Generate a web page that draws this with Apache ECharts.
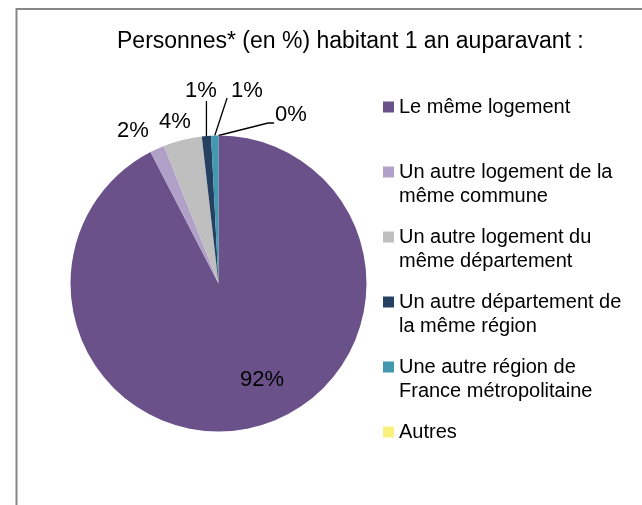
<!DOCTYPE html>
<html>
<head>
<meta charset="utf-8">
<script src="https://cdn.jsdelivr.net/npm/echarts@6/dist/echarts.min.js"></script>
<style>
  html, body { margin: 0; padding: 0; background: #fff; }
  #chart { width: 642px; height: 505px; }
</style>
</head>
<body>
<div id="chart"></div>
<script>
const categories = [
  "Le même logement",
  "Un autre logement de la même commune",
  "Un autre logement du même département",
  "Un autre département de la même région",
  "Une autre région de France métropolitaine",
  "Autres"
];
const shares = [92.4, 1.6, 4.2, 1.0, 0.8, 0];
const legendLines = [
  ["Le même logement", ""],
  ["Un autre logement de la", "même commune"],
  ["Un autre logement du", "même département"],
  ["Un autre département de", "la même région"],
  ["Une autre région de", "France métropolitaine"],
  ["Autres", ""]
];
const colors = ["#6A518A", "#B1A0C7", "#BFBFBF", "#254061", "#4198AF", "#F9F07D"];

// where Excel put the value labels (text centres) and how its leader lines run
const labelSpots = [[262, 380], [133, 131], [175, 122], [201, 91], [247, 91], [291, 115]];
const leaderKind = [null, null, null, "up", "left", "elbow"];

const font = "'Liberation Sans', Arial, sans-serif";

const chart = echarts.init(document.getElementById("chart"), null, { renderer: "canvas" });

function leader(kind, anchor, x, y, w, h) {
  const left = x - w / 2;
  if (kind === "up") return [anchor, [anchor[0], y + h / 2 - 1]];
  if (kind === "left") return [anchor, [left - 4, y + 7]];
  return [anchor, [left - 7, y + 8], [left - 1, y + 8]];
}

chart.setOption({
  backgroundColor: "#fff",
  animation: false,
  title: {
    text: "Personnes* (en %) habitant 1 an auparavant :",
    left: 112,
    top: 25,
    textStyle: { fontFamily: font, fontSize: 23, fontWeight: "normal", color: "#000" }
  },
  legend: {
    orient: "vertical",
    left: 383,
    top: 71,
    padding: 0,
    itemWidth: 11,
    itemHeight: 11,
    itemGap: -7,
    icon: "rect",
    selectedMode: false,
    // blank first line keeps the colour square level with the first text line
    formatter: function (name) {
      const l = legendLines[categories.indexOf(name)];
      return " \n" + l[0] + "\n" + (l[1] || " ");
    },
    textStyle: {
      fontFamily: font,
      fontSize: 20,
      lineHeight: 24,
      color: "#000"
    },
    data: categories
  },
  graphic: [{
    type: "rect",
    shape: { x: 16.5, y: 9, width: 700, height: 600 },
    style: { fill: "none", stroke: "#878787", lineWidth: 2 },
    silent: true
  }],
  series: [{
    type: "pie",
    center: [218.5, 283.5],
    radius: 148,
    startAngle: 90,
    clockwise: true,
    avoidLabelOverlap: false,
    itemStyle: { borderWidth: 0 },
    label: {
      show: true,
      position: "outside",
      fontFamily: font,
      fontSize: 22,
      color: "#000",
      formatter: function (p) { return Math.round(p.percent) + "%"; }
    },
    labelLine: {
      show: true,
      length: 10,
      length2: 6,
      smooth: false,
      lineStyle: { color: "#000", width: 1.3 }
    },
    labelLayout: function (params) {
      const i = params.dataIndex;
      const spot = labelSpots[i];
      const out = { x: spot[0], y: spot[1], align: "center", verticalAlign: "middle" };
      const pts = params.labelLinePoints;
      if (leaderKind[i] && pts) {
        const r = params.labelRect;
        out.labelLinePoints = leader(leaderKind[i], pts[0], spot[0], spot[1], r.width, r.height);
      }
      return out;
    },
    emphasis: { disabled: true },
    data: categories.map(function (name, i) {
      return {
        name: name,
        value: shares[i],
        itemStyle: { color: colors[i] },
        labelLine: { show: leaderKind[i] !== null }
      };
    })
  }]
});
</script>
</body>
</html>
